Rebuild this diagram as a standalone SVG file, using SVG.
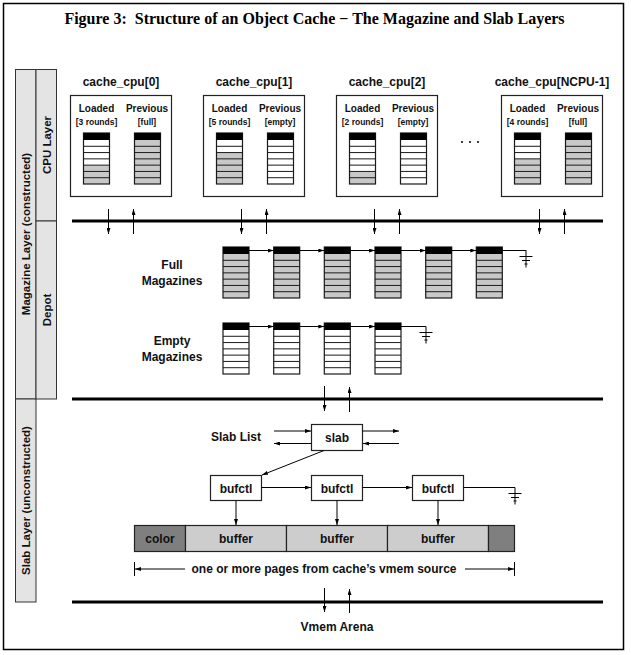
<svg xmlns="http://www.w3.org/2000/svg" xmlns:xlink="http://www.w3.org/1999/xlink" width="631" height="655" viewBox="0 0 631 655">
<style>
.t{font-family:"Liberation Sans",Arial,sans-serif;font-weight:bold;fill:#111;text-anchor:middle}
.f12{font-size:12px}
.f10{font-size:10px}
.f8{font-size:8.5px}
.col{fill:#e4e4e4;stroke:#333;stroke-width:1}
.box{fill:#fff;stroke:#222;stroke-width:1.2}
.bus{stroke:#000;stroke-width:3;fill:none}
.c{stroke:#000;stroke-width:1;fill:none}
.ca{stroke:#000;stroke-width:1;fill:none;marker-end:url(#ah)}
</style>
<defs>
<marker id="ah" viewBox="0 0 6 4" refX="6" refY="2" markerWidth="6" markerHeight="4" orient="auto" markerUnits="userSpaceOnUse"><path d="M0,0 L6,2 L0,4 z" fill="#000"/></marker>
<g id="grid">
<rect width="26" height="51" fill="none" stroke="#1a1a1a" stroke-width="1.2"/>
<rect width="26" height="7" fill="#000"/>
<path d="M0 13.29H26M0 19.57H26M0 25.86H26M0 32.14H26M0 38.43H26M0 44.71H26" stroke="#1a1a1a" stroke-width="1"/>
</g>
<g id="magE"><rect width="26" height="51" fill="#fff"/><use xlink:href="#grid"/></g>
<g id="magF"><rect width="26" height="51" fill="#c8c8c8"/><use xlink:href="#grid"/></g>
<g id="gnd"><path d="M0 0V17M-6.5 6H6.5M-4 10H4M-1.5 13.5H1.5" stroke="#000" stroke-width="1" fill="none"/></g>
</defs>
<rect x="3.5" y="3.5" width="620" height="646" fill="#fff" stroke="#000" stroke-width="1.5"/>
<text x="314.5" y="24" style="font-family:'Liberation Serif','Times New Roman',serif;font-weight:bold;font-size:16px;text-anchor:middle;fill:#000">Figure 3:&#160; Structure of an Object Cache − The Magazine and Slab Layers</text>

<g id="layer-labels">
<rect class="col" x="15.5" y="69.5" width="20.5" height="329.5"/>
<rect class="col" x="15.5" y="399" width="20.5" height="203"/>
<rect class="col" x="36" y="69.5" width="20.5" height="151.5"/>
<rect class="col" x="36" y="221" width="20.5" height="178"/>
<text class="t" style="font-size:11.5px" transform="translate(30,234) rotate(-90)">Magazine Layer (constructed)</text>
<text class="t" style="font-size:11.5px" transform="translate(50.5,145) rotate(-90)">CPU Layer</text>
<text class="t" style="font-size:11.5px" transform="translate(50.5,310) rotate(-90)">Depot</text>
<text class="t" style="font-size:11.5px" transform="translate(30,500.5) rotate(-90)">Slab Layer (unconstructed)</text>
</g>

<g id="cache_cpu_0">
<text class="t f12" x="121" y="86">cache_cpu[0]</text>
<rect class="box" x="70.5" y="95.5" width="101" height="101"/>
<text class="t f10" x="96.5" y="111.5">Loaded</text>
<text class="t f10" x="147" y="111.5">Previous</text>
<text class="t f8" x="96.5" y="125">[3 rounds]</text>
<text class="t f8" x="147" y="125">[full]</text>
<g transform="translate(83.5,133)"><rect width="26" height="51" fill="#fff"/><rect y="32.14" width="26" height="18.86" fill="#c8c8c8"/><use xlink:href="#grid"/></g>
<use xlink:href="#magF" x="134.5" y="133"/>
</g>

<g id="cache_cpu_1">
<text class="t f12" x="254" y="86">cache_cpu[1]</text>
<rect class="box" x="203.5" y="95.5" width="101" height="101"/>
<text class="t f10" x="229.5" y="111.5">Loaded</text>
<text class="t f10" x="280" y="111.5">Previous</text>
<text class="t f8" x="229.5" y="125">[5 rounds]</text>
<text class="t f8" x="280" y="125">[empty]</text>
<g transform="translate(216.5,133)"><rect width="26" height="51" fill="#fff"/><rect y="19.57" width="26" height="31.43" fill="#c8c8c8"/><use xlink:href="#grid"/></g>
<use xlink:href="#magE" x="267.5" y="133"/>
</g>

<g id="cache_cpu_2">
<text class="t f12" x="387" y="86">cache_cpu[2]</text>
<rect class="box" x="336.5" y="95.5" width="101" height="101"/>
<text class="t f10" x="362.5" y="111.5">Loaded</text>
<text class="t f10" x="413" y="111.5">Previous</text>
<text class="t f8" x="362.5" y="125">[2 rounds]</text>
<text class="t f8" x="413" y="125">[empty]</text>
<g transform="translate(349.5,133)"><rect width="26" height="51" fill="#fff"/><rect y="38.43" width="26" height="12.57" fill="#c8c8c8"/><use xlink:href="#grid"/></g>
<use xlink:href="#magE" x="400.5" y="133"/>
</g>

<g id="ellipsis">
<circle cx="462" cy="142" r="1"/><circle cx="470" cy="142" r="1"/><circle cx="478" cy="142" r="1"/>
</g>

<g id="cache_cpu_ncpu">
<text class="t f12" x="552" y="86">cache_cpu[NCPU-1]</text>
<rect class="box" x="501.5" y="95.5" width="101" height="101"/>
<text class="t f10" x="527.5" y="111.5">Loaded</text>
<text class="t f10" x="578" y="111.5">Previous</text>
<text class="t f8" x="527.5" y="125">[4 rounds]</text>
<text class="t f8" x="578" y="125">[full]</text>
<g transform="translate(514.5,133)"><rect width="26" height="51" fill="#fff"/><rect y="25.86" width="26" height="25.14" fill="#c8c8c8"/><use xlink:href="#grid"/></g>
<use xlink:href="#magF" x="565.5" y="133"/>
</g>

<g id="buses">
<path class="bus" d="M72 221H603"/>
<path class="bus" d="M72 399H603"/>
<path class="bus" d="M72 602H603"/>
</g>

<g id="full_magazines">
<text class="t f12" x="172" y="269">Full</text>
<text class="t f12" x="172" y="284.5">Magazines</text>
<use xlink:href="#magF" x="223" y="247"/>
<use xlink:href="#magF" x="273.7" y="247"/>
<use xlink:href="#magF" x="324.3" y="247"/>
<use xlink:href="#magF" x="375" y="247"/>
<use xlink:href="#magF" x="425.7" y="247"/>
<use xlink:href="#magF" x="476.3" y="247"/>
</g>

<g id="empty_magazines">
<text class="t f12" x="172" y="345">Empty</text>
<text class="t f12" x="172" y="360.5">Magazines</text>
<use xlink:href="#magE" x="223" y="323"/>
<use xlink:href="#magE" x="273.7" y="323"/>
<use xlink:href="#magE" x="324.3" y="323"/>
<use xlink:href="#magE" x="375" y="323"/>
</g>

<g id="slab">
<text class="t f12" x="236" y="441" text-anchor="middle">Slab List</text>
<rect class="box" x="311.5" y="424.5" width="51" height="26"/>
<text class="t f12" x="337" y="442">slab</text>
</g>
<g id="bufctl_1"><rect class="box" x="210.5" y="475.5" width="51" height="25"/><text class="t f12" x="236" y="492.5">bufctl</text></g>
<g id="bufctl_2"><rect class="box" x="311.5" y="475.5" width="51" height="25"/><text class="t f12" x="337" y="492.5">bufctl</text></g>
<g id="bufctl_3"><rect class="box" x="412.5" y="475.5" width="51" height="25"/><text class="t f12" x="438" y="492.5">bufctl</text></g>

<g id="slab_memory">
<rect x="134.5" y="525.5" width="51" height="26" fill="#7f7f7f" stroke="#222" stroke-width="1.2"/>
<rect x="185.5" y="525.5" width="101" height="26" fill="#cdcdcd" stroke="#222" stroke-width="1.2"/>
<rect x="286.5" y="525.5" width="101" height="26" fill="#cdcdcd" stroke="#222" stroke-width="1.2"/>
<rect x="387.5" y="525.5" width="101" height="26" fill="#cdcdcd" stroke="#222" stroke-width="1.2"/>
<rect x="488.5" y="525.5" width="26" height="26" fill="#7f7f7f" stroke="#222" stroke-width="1.2"/>
<text class="t f12" x="160" y="542.5">color</text>
<text class="t f12" x="236" y="542.5">buffer</text>
<text class="t f12" x="337" y="542.5">buffer</text>
<text class="t f12" x="438" y="542.5">buffer</text>
<text class="t f12" x="324" y="573">one or more pages from cache’s vmem source</text>
</g>

<g id="vmem_arena"><text class="t f12" x="337" y="631">Vmem Arena</text></g>

<g id="connectors">
<path class="ca" d="M108.5 209V234"/><path class="ca" d="M133.5 234V209"/>
<path class="ca" d="M241.5 209V234"/><path class="ca" d="M266.5 234V209"/>
<path class="ca" d="M374.5 209V234"/><path class="ca" d="M399.5 234V209"/>
<path class="ca" d="M539.5 209V234"/><path class="ca" d="M564.5 234V209"/>
<path class="ca" d="M249 250.5H273.7"/>
<path class="ca" d="M299.7 250.5H324.3"/>
<path class="ca" d="M350.3 250.5H375"/>
<path class="ca" d="M401 250.5H425.7"/>
<path class="ca" d="M451.7 250.5H476.3"/>
<path class="c" d="M502.3 250.5H526V251"/>
<use xlink:href="#gnd" x="526" y="250.5"/>
<path class="ca" d="M249 326.5H273.7"/>
<path class="ca" d="M299.7 326.5H324.3"/>
<path class="ca" d="M350.3 326.5H375"/>
<path class="c" d="M401 326.5H426"/>
<use xlink:href="#gnd" x="426" y="326.5"/>
<path class="ca" d="M324.5 386V411"/><path class="ca" d="M349.5 412V387"/>
<path class="ca" d="M274 431H311"/><path class="ca" d="M311 443.5H274"/>
<path class="ca" d="M362.5 431H399"/><path class="ca" d="M399 443.5H363"/>
<path class="ca" d="M324 450.5L262 475"/>
<path class="ca" d="M261.5 487.5H311"/>
<path class="ca" d="M362.5 487.5H412"/>
<path class="c" d="M463.5 487.5H515"/>
<use xlink:href="#gnd" x="515" y="487.5"/>
<path class="ca" d="M236 500.5V525"/>
<path class="ca" d="M337 500.5V525"/>
<path class="ca" d="M438 500.5V525"/>
<path class="c" d="M134.5 562V576M514.5 562V576"/>
<path class="ca" d="M185 569H135"/>
<path class="ca" d="M465 569H514"/>
<path class="ca" d="M324.5 588V612"/><path class="ca" d="M349.5 613V589"/>
</g>
</svg>
